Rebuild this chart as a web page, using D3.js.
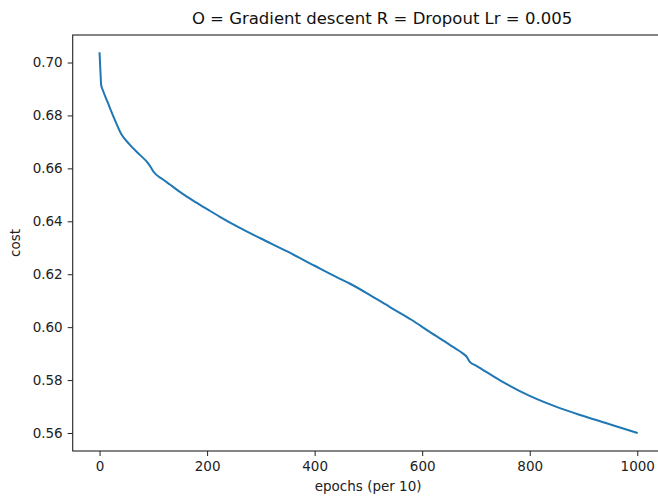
<!DOCTYPE html>
<html>
<head>
<meta charset="utf-8">
<script src="https://cdn.jsdelivr.net/npm/d3@7"></script>
<style>
    body { margin: 0; background: #fff; }
    svg { font-family: "DejaVu Sans", sans-serif; }
</style>
</head>
<body>
<svg id="chart" width="658" height="496"></svg>
<script>
// cost (epochs are in units of 10)
const epochs = [0, 2, 3, 6, 15, 28, 40, 56, 75, 90, 95, 100, 118, 130, 150, 174, 200, 223, 260, 300,
    350, 400, 440, 465, 500, 540, 580, 614, 650, 676, 682, 689, 700, 744, 800, 856, 900, 950, 999];
const costs = [0.7035, 0.6950, 0.6915, 0.6896, 0.6850, 0.6785, 0.6731, 0.6690, 0.6651, 0.6620, 0.6605,
    0.6588, 0.6558, 0.6540, 0.6510, 0.6478, 0.6446, 0.6418, 0.6376, 0.6335, 0.6285, 0.6232, 0.6190,
    0.6165, 0.6125, 0.6076, 0.6028, 0.5982, 0.5935, 0.5900, 0.5890, 0.5868, 0.5855, 0.5800, 0.5740,
    0.5694, 0.5664, 0.5632, 0.5601];
const xTicks = [0, 200, 400, 600, 800, 1000];
const yTicks = [0.56, 0.58, 0.60, 0.62, 0.64, 0.66, 0.68, 0.70];

const title = 'O = Gradient descent R = Dropout Lr = 0.005';

let svg = d3.select('#chart');

let plotLeft = 72.7, plotRight = 663.6, plotTop = 35, plotBottom = 451;

let x = d3.scaleLinear().domain([-49.95, 1048.95]).range([plotLeft, plotRight]);
let y = d3.scaleLinear().domain([0.5532, 0.7104]).range([plotBottom, plotTop]);

let data = epochs.map((e, i) => ({ e: e, c: costs[i] }));

// line
svg.append('path')
    .datum(data)
    .attr('fill', 'none')
    .attr('stroke', '#1f77b4')
    .attr('stroke-width', 2)
    .attr('stroke-linejoin', 'round')
    .attr('stroke-linecap', 'square')
    .attr('d', d3.line().x(d => x(d.e)).y(d => y(d.c)).curve(d3.curveMonotoneX));

// axes
let xAxis = svg.append('g')
    .attr('transform', 'translate(0,' + plotBottom + ')')
    .call(d3.axisBottom(x).tickValues(xTicks).tickFormat(d3.format('d')).tickSize(5).tickPadding(5));

let yAxis = svg.append('g')
    .attr('transform', 'translate(' + plotLeft + ',0)')
    .call(d3.axisLeft(y).tickValues(yTicks).tickFormat(d3.format('.2f')).tickSize(5).tickPadding(5));

[xAxis, yAxis].forEach(g => {
    g.select('.domain').remove();
    g.selectAll('.tick line').attr('stroke', '#222').attr('stroke-width', 1);
    g.selectAll('.tick text')
        .attr('font-family', '"DejaVu Sans", sans-serif')
        .attr('font-size', 13.5)
        .attr('fill', '#222');
});

// frame
svg.append('rect')
    .attr('x', plotLeft)
    .attr('y', plotTop)
    .attr('width', plotRight - plotLeft)
    .attr('height', plotBottom - plotTop)
    .attr('fill', 'none')
    .attr('stroke', '#222')
    .attr('stroke-width', 1.1);

// labels
svg.append('text')
    .attr('x', 382)
    .attr('y', 24)
    .attr('text-anchor', 'middle')
    .attr('font-size', 16.5)
    .attr('fill', '#111')
    .text(title);

svg.append('text')
    .attr('x', (plotLeft + plotRight) / 2)
    .attr('y', 491)
    .attr('text-anchor', 'middle')
    .attr('font-size', 13.5)
    .attr('fill', '#222')
    .text('epochs (per 10)');

svg.append('text')
    .attr('transform', 'translate(20,' + ((plotTop + plotBottom) / 2) + ') rotate(-90)')
    .attr('text-anchor', 'middle')
    .attr('font-size', 13.5)
    .attr('fill', '#222')
    .text('cost');
</script>
</body>
</html>
